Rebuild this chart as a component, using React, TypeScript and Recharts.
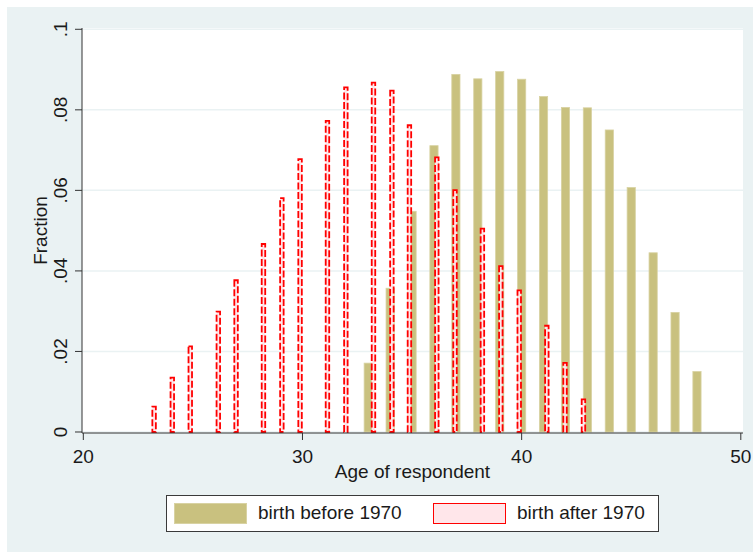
import React from 'react';
import { BarChart, Bar, XAxis, YAxis, CartesianGrid, Legend, Label } from 'recharts';

// Age (bar centre) and fraction for each group
const beforeAges = [33, 34, 35, 36, 37, 38, 39, 40, 41, 42, 43, 44, 45, 46, 47, 48];
const beforeVals = [0.0172, 0.0358, 0.0549, 0.0712, 0.0889, 0.0878, 0.0896, 0.0877, 0.0834, 0.0807, 0.0806, 0.0751, 0.0608, 0.0446, 0.0298, 0.0151];

const afterAges = [23.23, 24.06, 24.88, 26.16, 26.97, 28.22, 29.06, 29.89, 31.14, 31.98, 33.24, 34.08, 34.88, 36.13, 36.96, 38.21, 39.05, 39.89, 41.15, 41.98, 42.82];
const afterVals = [0.0065, 0.0137, 0.0215, 0.0301, 0.0379, 0.0469, 0.0583, 0.068, 0.0775, 0.0858, 0.087, 0.085, 0.0764, 0.0684, 0.0603, 0.0507, 0.0414, 0.0354, 0.0266, 0.0174, 0.0083];

const xTicks = [20, 30, 40, 50];
const yTicks = [0, 0.02, 0.04, 0.06, 0.08, 0.1];
const yTickLabels = ['0', '.02', '.04', '.06', '.08', '.1'];

const seriesNames = ['birth before 1970', 'birth after 1970'];

const rows = [
  ...beforeAges.map((a, i) => ({ age: a, before: beforeVals[i] })),
  ...afterAges.map((a, i) => ({ age: a, after: afterVals[i] })),
].sort((p, q) => p.age - q.age);

const FONT = '"Liberation Sans", Arial, sans-serif';
const BG = '#EAF2F3';
const GOLD = '#C9C17F';
const GOLD_EDGE = '#D8D2A2';
const RED = '#FF0000';
const PINK = '#FFE6EA';

const GoldShape = (p: any) => {
  const { x, y, width, height } = p;
  if (!height || height <= 0 || !isFinite(x)) return null;
  const cx = x + width / 2;
  const w = 8.2;
  return <rect x={cx - w / 2} y={y + 0.4} width={w} height={height - 0.4} fill={GOLD} stroke={GOLD_EDGE} strokeWidth={0.8} />;
};

const RedShape = (p: any) => {
  const { x, y, width, height } = p;
  if (!height || height <= 0 || !isFinite(x)) return null;
  const cx = x + width / 2;
  const w = 3.5;
  return (
    <rect
      x={cx - w / 2}
      y={y + 0.9}
      width={w}
      height={height - 0.9}
      fill={PINK}
      stroke={RED}
      strokeWidth={1.8}
      strokeDasharray="7 2.5"
    />
  );
};

const YTick = (p: any) => {
  const { y, payload } = p;
  const idx = yTicks.indexOf(payload.value);
  const label = idx >= 0 ? yTickLabels[idx] : String(payload.value);
  return (
    <text
      transform={`translate(59.6, ${y}) rotate(-90)`}
      textAnchor="middle"
      fontFamily={FONT}
      fontSize={19}
      fill="#1a1a1a"
    >
      {label}
    </text>
  );
};

const FractionLabel = (p: any) => {
  const vb = p.viewBox || { y: 21, height: 405 };
  const cy = vb.y + vb.height / 2;
  return (
    <text transform={`translate(39.7, ${cy}) rotate(-90)`} textAnchor="middle" fontFamily={FONT} fontSize={19} fill="#1a1a1a">
      Fraction
    </text>
  );
};

const LegendBox = () => (
  <div
    style={{
      position: 'relative',
      boxSizing: 'border-box',
      width: 493,
      height: 37,
      border: '1px solid #3a3a3a',
      background: '#fff',
      fontFamily: FONT,
      fontSize: 19,
      color: '#1a1a1a',
    }}
  >
    <div style={{ position: 'absolute', left: 7, top: 7, width: 73, height: 21, boxSizing: 'border-box', background: GOLD, border: `1.5px solid ${GOLD_EDGE}` }} />
    <div style={{ position: 'absolute', left: 91, top: 6, lineHeight: '22px', whiteSpace: 'nowrap' }}>{seriesNames[0]}</div>
    <div style={{ position: 'absolute', left: 266, top: 7, width: 73, height: 21, boxSizing: 'border-box', background: PINK, border: `1.5px solid ${RED}` }} />
    <div style={{ position: 'absolute', left: 350, top: 6, lineHeight: '22px', whiteSpace: 'nowrap' }}>{seriesNames[1]}</div>
  </div>
);

export default function App() {
  return (
    <div style={{ position: 'fixed', left: 7, top: 7, width: 746, height: 545, background: BG }}>
      <BarChart
        width={746}
        height={545}
        data={rows}
        margin={{ top: 21, right: 10, bottom: 69, left: 0 }}
        barCategoryGap={0}
        barGap={0}
      >
        <CartesianGrid vertical={false} horizontalValues={yTicks} stroke={BG} strokeWidth={1.5} fill="#ffffff" />
        <XAxis
          dataKey="age"
          type="number"
          domain={[19.94, 50.1]}
          allowDataOverflow
          ticks={xTicks}
          interval={0}
          height={50}
          tickSize={7}
          tickMargin={10}
          stroke="#333"
          tick={{ fontFamily: FONT, fontSize: 19, fill: '#1a1a1a' }}
        >
          <Label value="Age of respondent" position="insideBottom" offset={5} style={{ fontFamily: FONT, fontSize: 19, fill: '#1a1a1a' }} />
        </XAxis>
        <YAxis
          type="number"
          domain={[-0.00025, 0.10032]}
          allowDataOverflow
          ticks={yTicks}
          interval={0}
          width={75}
          tickSize={7}
          stroke="#333"
          tick={<YTick />}
        >
          <Label content={<FractionLabel />} />
        </YAxis>
        <Bar dataKey="before" name={seriesNames[0]} stackId="s" shape={<GoldShape />} isAnimationActive={false} />
        <Bar dataKey="after" name={seriesNames[1]} stackId="s" shape={<RedShape />} isAnimationActive={false} />
        <Legend
          verticalAlign="middle"
          align="center"
          layout="horizontal"
          wrapperStyle={{ top: 487.7, left: 159, width: 493, height: 37 }}
          content={<LegendBox />}
        />
      </BarChart>
    </div>
  );
}
